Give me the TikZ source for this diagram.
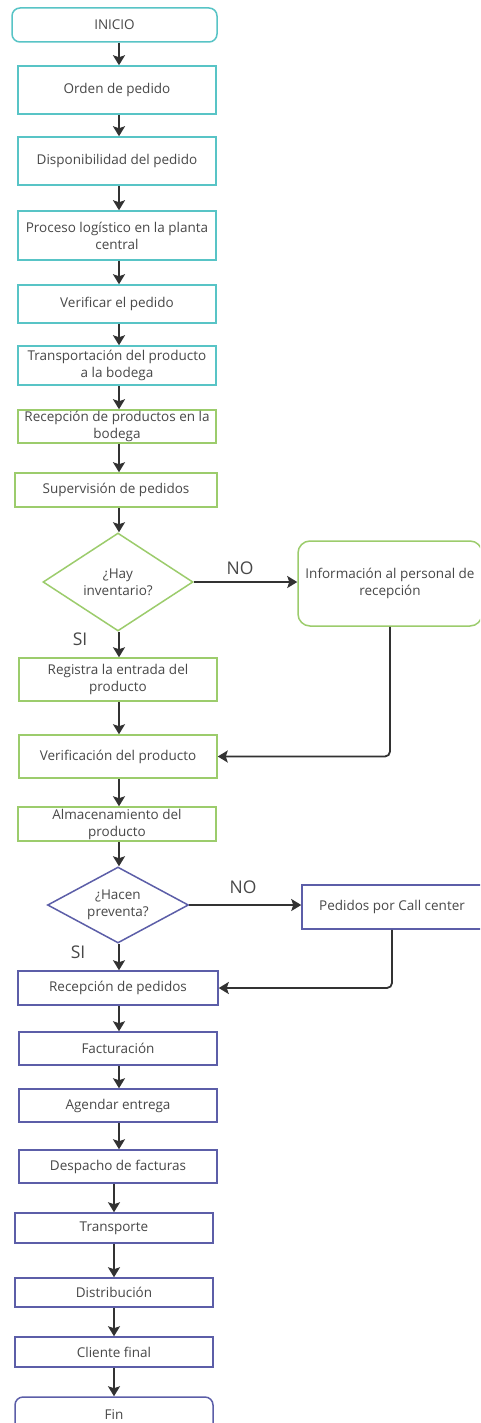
\documentclass[tikz,border=0pt]{standalone}
\usepackage{fontspec}
\setmainfont{Open Sans}
\usetikzlibrary{shapes.geometric,arrows.meta}
\definecolor{tealc}{RGB}{88,196,198}
\definecolor{greenc}{RGB}{156,204,108}
\definecolor{bluec}{RGB}{92,94,168}
\definecolor{inkc}{RGB}{72,72,72}
\definecolor{arrc}{RGB}{50,50,50}
\begin{document}
\begin{tikzpicture}[x=1pt,y=-1pt,
  box/.style={draw, line width=1.5pt, fill=white, align=center, inner sep=0pt,
    text=inkc, font=\fontsize{13.5}{17}\selectfont},
  tealbox/.style={box, draw=tealc},
  greenbox/.style={box, draw=greenc},
  bluebox/.style={box, draw=bluec},
  decision/.style={box, diamond, aspect=1.5},
  arr/.style={draw=arrc, line width=1.8pt, -{Stealth[length=10pt,width=12pt,inset=2pt]}},
  lbl/.style={text=inkc, font=\fontsize{17.5}{20}\selectfont, inner sep=0pt}]
\clip (0,0) rectangle (480,1423);
\fill[white] (0,0) rectangle (480,1423);

% columns used by the vertical connectors
\coordinate (cu) at (119,0);
\coordinate (cl) at (114,0);

% first stage: order handling at the central plant
\node[tealbox, rounded corners=8pt, minimum width=205, minimum height=34] (inicio) at (114.5,25) {INICIO};
\node[tealbox, minimum width=198, minimum height=48] (orden) at (117,90) {Orden de pedido};
\node[tealbox, minimum width=198, minimum height=48] (disp) at (117,161) {Disponibilidad del pedido};
\node[tealbox, minimum width=198, minimum height=49] (proc) at (117,235.5) {Proceso logístico en la planta\\central};
\node[tealbox, minimum width=198, minimum height=38] (verped) at (117,304) {Verificar el pedido};
\node[tealbox, minimum width=198, minimum height=39] (transp) at (117,365.5) {Transportación del producto\\a la bodega};

% second stage: warehouse reception
\node[greenbox, minimum width=198, minimum height=33] (recprod) at (117,426.5) {Recepción de productos en la\\bodega};
\node[greenbox, minimum width=202, minimum height=34] (superv) at (116,490) {Supervisión de pedidos};
\node[decision, draw=greenc, minimum width=150, minimum height=98] (inv) at (118,582) {¿Hay\\inventario?};
\node[greenbox, rounded corners=12pt, minimum width=184, minimum height=85] (info) at (390,583.5) {Información al personal de\\recepción};
\node[greenbox, minimum width=198, minimum height=43] (regis) at (118,679.5) {Registra la entrada del\\producto};
\node[greenbox, minimum width=198, minimum height=43] (verprod) at (118,756.5) {Verificación del producto};
\node[greenbox, minimum width=198, minimum height=34] (alm) at (117,824) {Almacenamiento del\\producto};

% third stage: sales and delivery
\node[decision, draw=bluec, minimum width=141, minimum height=76] (prev) at (118,905) {¿Hacen\\preventa?};
\node[bluebox, minimum width=180, minimum height=44] (call) at (392,907) {Pedidos por Call center};
\node[bluebox, minimum width=200, minimum height=34] (recped) at (118,988) {Recepción de pedidos};
\node[bluebox, minimum width=198, minimum height=33] (fact) at (118,1048.5) {Facturación};
\node[bluebox, minimum width=198, minimum height=33] (agen) at (118,1105.5) {Agendar entrega};
\node[bluebox, minimum width=198, minimum height=33] (desp) at (118,1166.5) {Despacho de facturas};
\node[bluebox, minimum width=198, minimum height=30] (trans) at (114,1228) {Transporte};
\node[bluebox, minimum width=198, minimum height=29] (dist) at (114,1292.5) {Distribución};
\node[bluebox, minimum width=198, minimum height=30] (cli) at (114,1352) {Cliente final};
\node[bluebox, rounded corners=8pt, minimum width=198, minimum height=36] (fin) at (114,1415) {Fin};

% branch labels
\node[lbl] (no1) at (240,568) {NO};
\node[lbl] (si1) at (80,639) {SI};
\node[lbl] (no2) at (243,887) {NO};
\node[lbl] (si2) at (78,952) {SI};

% main flow
\foreach \a/\b in {inicio/orden, orden/disp, disp/proc, proc/verped, verped/transp,
  transp/recprod, recprod/superv, superv/inv, inv/regis, regis/verprod, verprod/alm,
  alm/prev, prev/recped, recped/fact, fact/agen, agen/desp}
  \draw[arr] (\a.south -| cu) -- (\b.north -| cu);
\foreach \a/\b in {desp/trans, trans/dist, dist/cli, cli/fin}
  \draw[arr] (\a.south -| cl) -- (\b.north -| cl);

% side branches
\draw[arr] (inv.east) -- (inv.east -| info.west);
\draw[arr, rounded corners=5pt] (info.south) |- (verprod.east);
\draw[arr] (prev.east) -- (prev.east -| call.west);
\draw[arr, rounded corners=5pt] (call.south) |- (recped.east);
\end{tikzpicture}
\end{document}
